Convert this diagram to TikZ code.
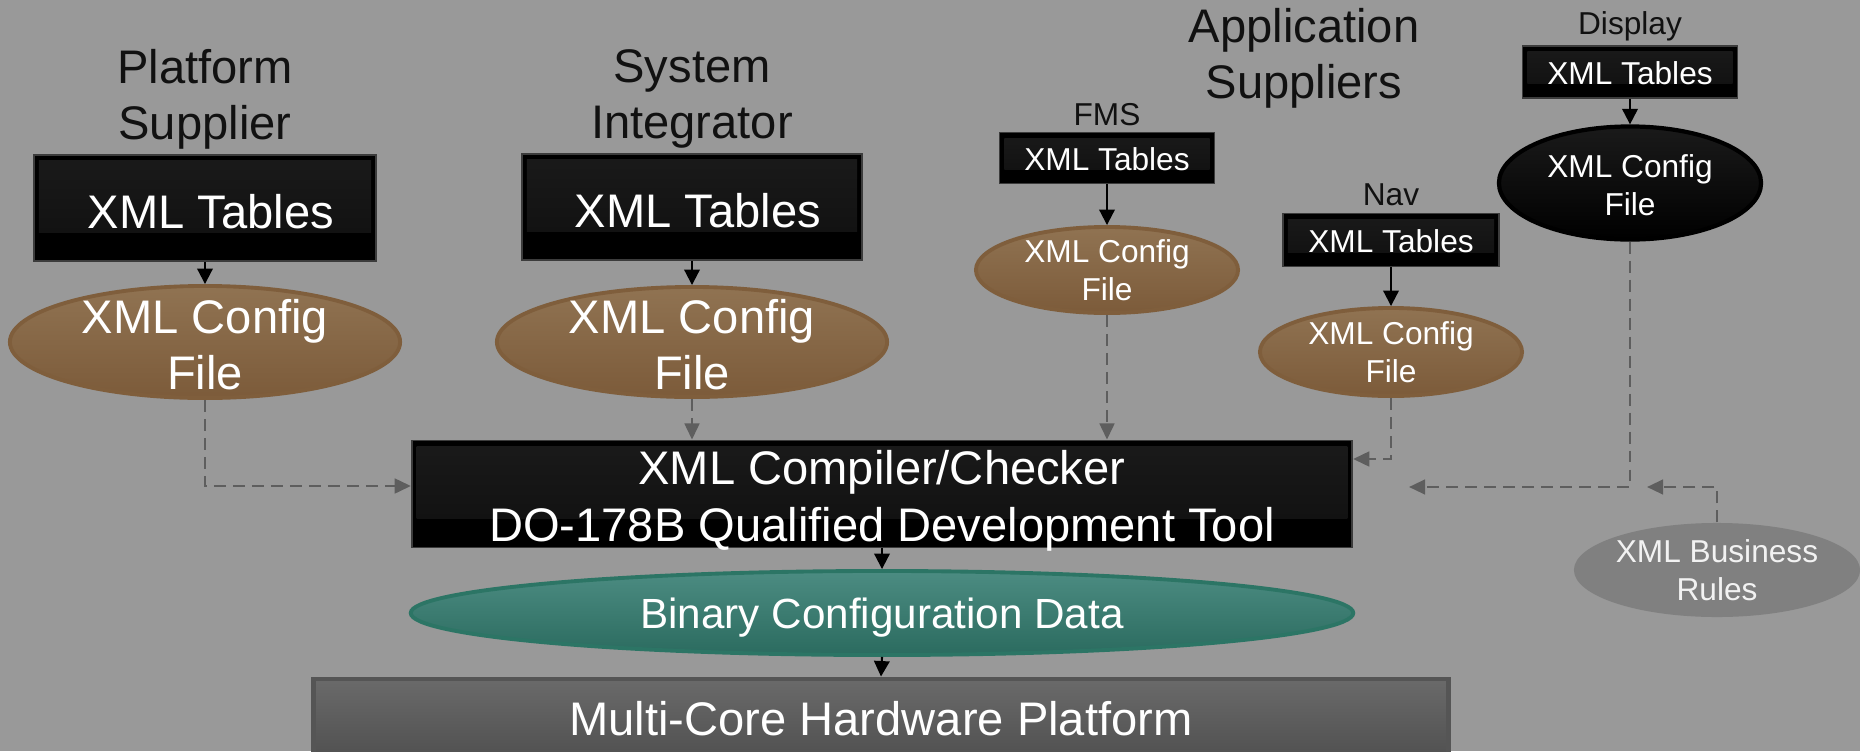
\documentclass[tikz,border=0pt]{standalone}
\usepackage{fontspec}
\setmainfont{Liberation Sans}
\usetikzlibrary{shapes.geometric,arrows.meta,calc}

\definecolor{bg}{HTML}{999999}
\definecolor{labelink}{HTML}{111111}
\definecolor{boxedge}{HTML}{3C3C3C}
\definecolor{hitop}{HTML}{1A1A1A}
\definecolor{hibot}{HTML}{0F0F0F}
\definecolor{browntop}{HTML}{907352}
\definecolor{brownbot}{HTML}{7C5B3A}
\definecolor{brownedge}{HTML}{7F5E3C}
\definecolor{tealtop}{HTML}{4C8C82}
\definecolor{tealbot}{HTML}{2B6B5F}
\definecolor{tealedge}{HTML}{2C7565}
\definecolor{mctop}{HTML}{6A6A6A}
\definecolor{mcbot}{HTML}{505050}
\definecolor{mcedge}{HTML}{555555}
\definecolor{rulesgray}{HTML}{808080}
\definecolor{feedgray}{HTML}{5E5E5E}
\definecolor{softwhite}{HTML}{F2F2F2}

\begin{document}
\begin{tikzpicture}[x=0.01cm, y=-0.01cm,
  bigtxt/.style={font=\fontsize{13.4}{16}\selectfont},
  smalltxt/.style={font=\fontsize{9}{10.8}\selectfont},
  heading/.style={bigtxt, text=labelink, align=center, inner sep=0pt},
  nametag/.style={smalltxt, text=labelink, inner sep=0pt},
  tablebox/.style={rectangle, draw=boxedge, line width=0.5pt, fill=black,
    text=white, inner sep=0pt,
    path picture={\shade[top color=hitop, bottom color=hibot]
      ($(path picture bounding box.north west)+(5,6)$) rectangle
      ($(path picture bounding box.south east)!0.27!(path picture bounding box.north east)+(-5,0)$);}},
  cfgfile/.style={ellipse, draw=brownedge, line width=1.1pt,
    top color=browntop, bottom color=brownbot, inner sep=0pt},
  cfgtext/.style={text=white, align=center, inner sep=0pt},
  flow/.style={-{Triangle[length=4.4pt,width=4.4pt]}, line width=0.6pt, black},
  feed/.style={-{Triangle[length=4.6pt,width=4.2pt]}, line width=0.7pt,
    feedgray, dash pattern=on 3.4pt off 2pt},
]
\useasboundingbox (0,0) rectangle (1860,751);
\clip (0,0) rectangle (1860,751);
\fill[bg] (0,0) rectangle (1860,751);

% group headings
\node[heading] (psup) at (205,99) {Platform\\Supplier};
\node[heading] (sint) at (692,99) {System\\Integrator};
\node[heading] (asup) at (1304,58) {Application\\Suppliers};
\node[nametag] (fmsl) at (1107,115) {FMS};
\node[nametag] (navl) at (1391,195) {Nav};
\node[nametag] (dspl) at (1630,26) {Display};

% XML table sources
\node[tablebox, bigtxt, text height=12pt, minimum width=3.42cm, minimum height=1.06cm] (tabps) at (205,208) {\hspace*{0.12cm}XML Tables};
\node[tablebox, bigtxt, text height=12pt, minimum width=3.40cm, minimum height=1.06cm] (tabsi) at (692,207) {\hspace*{0.12cm}XML Tables};
\node[tablebox, smalltxt, text height=7.4pt, minimum width=2.15cm, minimum height=0.51cm] (tabfms) at (1107,158) {XML Tables};
\node[tablebox, smalltxt, text height=7.4pt, minimum width=2.16cm, minimum height=0.53cm] (tabnav) at (1391,240) {XML Tables};
\node[tablebox, smalltxt, text height=7.4pt, minimum width=2.15cm, minimum height=0.52cm] (tabdsp) at (1630,72) {XML Tables};

% configuration files
\node[cfgfile, minimum width=3.9cm, minimum height=1.12cm,
  label={[cfgtext,bigtxt,yshift=-0.8pt]center:{XML Config\\File}}] (cfgps) at (205,342) {};
\node[cfgfile, minimum width=3.9cm, minimum height=1.10cm,
  label={[cfgtext,bigtxt,yshift=-0.8pt]center:{XML Config\\File}}] (cfgsi) at (692,342) {};
\node[cfgfile, minimum width=2.62cm, minimum height=0.86cm,
  label={[cfgtext,smalltxt]center:{XML Config\\File}}] (cfgfms) at (1107,270) {};
\node[cfgfile, minimum width=2.62cm, minimum height=0.88cm,
  label={[cfgtext,smalltxt]center:{XML Config\\File}}] (cfgnav) at (1391,352) {};
\node[ellipse, draw=black, line width=1.2pt, top color=hitop, bottom color=black,
  inner sep=0pt, minimum width=2.62cm, minimum height=1.13cm,
  label={[cfgtext,smalltxt,yshift=-0.6pt]center:{XML Config\\File}}] (cfgdsp) at (1630,183) {};

% business rules
\node[ellipse, fill=rulesgray, inner sep=0pt, minimum width=2.86cm, minimum height=0.94cm,
  label={[cfgtext,smalltxt,text=softwhite]center:{XML Business\\Rules}}] (rules) at (1717,570) {};

% compiler, output and target
\node[tablebox, minimum width=9.4cm, minimum height=1.07cm,
  label={[cfgtext,bigtxt,yshift=-1.9pt]center:{XML Compiler/Checker\\DO-178B Qualified Development Tool}}] (comp) at (882,494) {};
\node[ellipse, draw=tealedge, line width=1.1pt, top color=tealtop, bottom color=tealbot,
  inner sep=0pt, minimum width=9.42cm, minimum height=0.84cm,
  label={[text=white, inner sep=0pt, yshift=-1.3pt, font=\fontsize{12}{14}\selectfont]center:Binary Configuration Data}] (bin) at (882,613) {};
\node[rectangle, draw=mcedge, line width=1.4pt, top color=mctop, bottom color=mcbot,
  minimum width=11.34cm, minimum height=0.80cm, text=white, bigtxt, inner sep=0pt] (mc) at (881,719)
  {Multi-Core Hardware Platform};

% tables to config files
\draw[flow] (tabps.south) -- (cfgps.north);
\draw[flow] (tabsi.south) -- (cfgsi.north);
\draw[flow] (tabfms.south) -- (cfgfms.north);
\draw[flow] (tabnav.south) -- (cfgnav.north);
\draw[flow] (tabdsp.south) -- (cfgdsp.north);

% config files into the compiler
\coordinate (psin) at ($(comp.west)+(0,-8)$);
\coordinate (navin) at ($(comp.east)+(0,-35)$);
\coordinate (dspend) at (1409,487);
\coordinate (rulesend) at (1647,487);
\draw[feed] (cfgps.south) |- (psin);
\draw[feed] (cfgsi.south) -- (cfgsi.south |- comp.north);
\draw[feed] (cfgfms.south) -- (cfgfms.south |- comp.north);
\draw[feed] (cfgnav.south) |- (navin);
\draw[feed] (cfgdsp.south) |- (dspend);
\draw[feed] (rules.north) |- (rulesend);

% compiler output chain
\draw[flow] (comp.south) -- (bin.north);
\draw[flow] (bin.south) -- (mc.north);
\end{tikzpicture}
\end{document}
